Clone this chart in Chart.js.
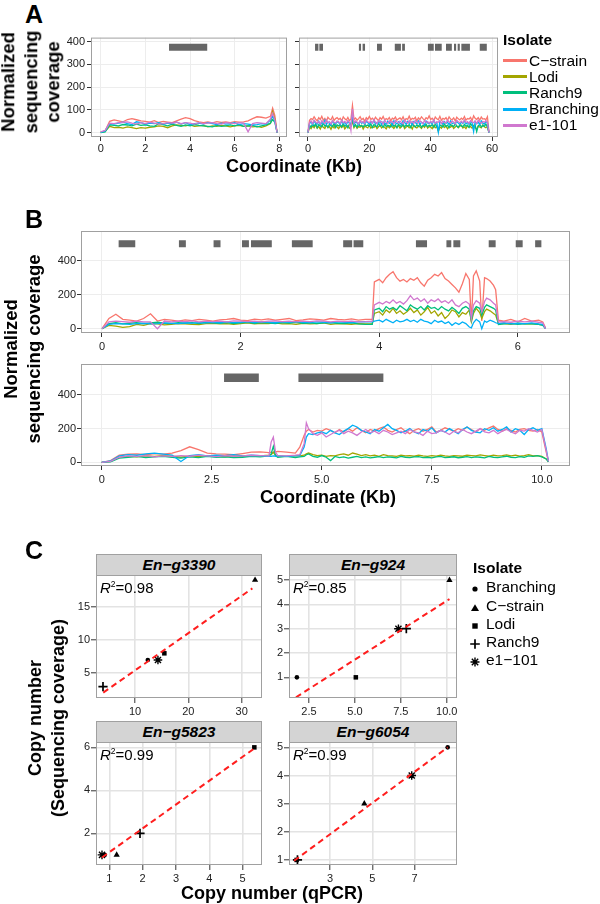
<!DOCTYPE html>
<html>
<head>
<meta charset="utf-8">
<script src="https://cdn.jsdelivr.net/npm/chart.js@4.4.0/dist/chart.umd.min.js"></script>
<style>
  html, body { margin: 0; padding: 0; background: #fff; }
  #page { position: relative; width: 600px; height: 904px; overflow: hidden;
          font-family: 'Liberation Sans', Arial, Helvetica, sans-serif; color: #000; }
  #page canvas { position: absolute; }
  .txt { position: absolute; white-space: nowrap; text-align: center; }
  .strip { position: absolute; box-sizing: border-box; background: #D4D4D4; border: 1px solid #A0A0A0;
           font-weight: bold; font-style: italic; font-size: 15.5px; text-align: center; line-height: 20px; }
  .key { position: absolute; height: 3px; }
</style>
</head>
<body>
<div id="page"></div>
<script>
// ---- isolates ----
const ISOLATES = ['C\u2212strain', 'Lodi', 'Ranch9', 'Branching', 'e1-101'];
const COLORS = ['#F8766D', '#A3A500', '#00BF7D', '#00B0F6', '#D078CF'];

// ---- panel A, left contig (Kb) ----
const A1_X = [0,0.2,0.4,0.6,0.8,1,1.2,1.4,1.6,1.8,2,2.2,2.4,2.6,2.8,3,3.2,3.4,3.6,3.8,
  4,4.2,4.4,4.6,4.8,5,5.2,5.4,5.6,5.8,6,6.2,6.4,6.6,6.8,7,7.2,7.4,7.6,7.7,7.8,7.9];
const A1_CSTRAIN = [3,8,50,56,52,48,58,62,57,52,50,47,53,45,50,47,44,52,60,66,62,53,48,44,47,43,49,45,47,44,49,46,48,52,62,70,68,64,72,108,75,0];
const A1_LODI = [2,6,28,22,24,20,26,22,18,22,20,24,26,30,28,22,30,34,32,30,34,28,30,32,26,30,28,32,30,26,30,32,28,30,26,28,24,30,40,92,60,0];
const A1_RANCH9 = [0,4,35,32,30,36,34,30,38,32,35,30,28,40,36,30,38,32,28,34,30,36,32,30,28,26,32,28,30,34,30,36,28,30,32,26,30,34,42,58,45,0];
const A1_BRANCHING = [2,8,40,38,42,46,40,36,48,44,38,42,40,44,38,42,40,46,38,44,36,40,42,38,44,40,36,42,38,40,44,36,40,38,34,36,40,38,55,75,50,0];
const A1_E1101 = [4,10,42,40,44,46,48,42,38,44,40,46,42,38,40,44,42,46,40,44,42,38,44,40,42,44,40,38,44,42,40,44,42,4,40,44,42,40,60,85,55,0];
const A1_GENES = [[3.06, 4.77]];

// ---- panel A, right contig (Kb) ----
const A2_X = [0,0.5,1,1.5,2,2.5,3,3.5,4,4.5,5,5.5,6,6.5,7,7.5,8,8.5,9,9.5,
  10,10.5,11,11.5,12,12.5,13,13.5,14,14.5,15,15.5,16,16.5,17,17.5,18,18.5,19,19.5,
  20,20.5,21,21.5,22,22.5,23,23.5,24,24.5,25,25.5,26,26.5,27,27.5,28,28.5,29,29.5,
  30,30.5,31,31.5,32,32.5,33,33.5,34,34.5,35,35.5,36,36.5,37,37.5,38,38.5,39,39.5,
  40,40.5,41,41.5,42,42.5,43,43.5,44,44.5,45,45.5,46,46.5,47,47.5,48,48.5,49,49.5,
  50,50.5,51,51.5,52,52.5,53,53.5,54,54.5,55,55.5,56,56.5,57,57.5,58,58.5,59];
const A2_CSTRAIN = [5,55,62,58,70,60,52,66,58,72,55,63,50,68,60,57,71,54,62,66,
  58,64,52,70,61,56,67,53,60,120,58,65,55,62,70,57,63,50,66,59,
  72,58,64,55,68,60,53,66,59,71,56,62,58,67,52,64,60,69,55,61,
  65,57,70,54,62,59,73,56,63,60,68,52,65,58,70,62,55,66,60,74,
  58,64,53,69,61,57,72,55,63,59,66,54,70,60,57,65,52,68,61,56,
  64,58,71,55,62,60,67,53,74,63,58,66,55,69,60,62,57,70,5];
const A2_LODI = [0,25,18,30,22,35,20,28,16,32,24,19,34,22,27,15,30,21,36,25,
  18,29,23,33,17,26,31,20,28,50,22,34,19,27,24,32,16,29,25,21,
  35,20,27,23,31,18,26,33,21,28,24,17,30,22,36,26,19,29,23,32,
  20,27,34,18,25,30,22,28,16,33,24,21,29,26,19,31,23,35,20,27,
  25,18,32,22,28,5,26,20,34,23,29,17,27,24,31,19,25,30,22,28,
  33,21,26,18,30,24,27,20,32,23,15,29,25,21,34,26,22,28,0];
const A2_RANCH9 = [0,32,25,38,28,40,22,35,30,26,42,29,33,24,37,31,27,39,23,34,
  30,36,26,41,28,33,22,38,31,60,27,35,24,40,29,32,25,37,30,34,
  28,39,23,36,31,26,42,29,34,24,38,27,33,30,25,40,28,35,22,37,
  31,27,39,25,34,29,36,23,41,30,26,35,28,38,24,32,30,37,26,33,
  29,36,24,39,27,10,34,30,25,38,28,33,22,36,31,27,40,29,24,35,
  30,26,37,28,33,23,39,31,27,34,5,30,36,25,32,28,38,26,0];
const A2_BRANCHING = [0,40,48,35,52,42,38,50,33,45,40,55,36,47,41,34,51,43,38,49,
  44,36,53,40,46,35,50,42,39,80,37,48,43,35,52,41,46,38,50,44,
  36,49,42,54,38,45,40,51,35,47,43,37,50,41,46,34,52,44,39,48,
  42,36,53,45,38,50,41,47,35,49,44,39,52,37,46,42,34,51,43,40,
  48,38,54,41,45,2,50,43,37,49,41,46,35,52,40,44,38,50,42,36,
  47,41,53,39,45,37,51,43,5,48,40,46,36,52,42,38,49,44,0];
const A2_E1101 = [0,45,52,40,55,47,42,50,38,53,46,41,56,44,49,39,54,45,43,51,
  48,40,55,44,50,42,53,46,10,105,43,52,47,39,54,45,50,41,56,48,
  44,51,42,57,46,40,53,47,49,38,55,45,42,52,46,50,40,54,47,43,
  51,45,39,56,48,42,53,44,50,41,55,46,43,52,47,40,54,45,49,42,
  50,44,57,41,48,46,53,40,51,45,43,55,47,42,52,46,39,54,48,44,
  51,43,56,45,49,41,53,47,44,52,40,55,46,42,50,45,53,44,0];
const A2_GENES = [[2.3,3.4],[3.7,4.9],[16.6,17.3],[17.8,18.6],[22.5,24.1],[28.3,30.3],[30.7,31.6],
  [39.1,41.0],[41.4,43.6],[45.0,46.9],[47.6,48.3],[48.8,49.5],[50.0,52.8],[56.0,58.3]];

// ---- panel B, upper contig (Kb) ----
const B1_X = [0,0.1,0.2,0.3,0.4,0.5,0.6,0.7,0.8,0.9,1,1.1,1.2,1.3,1.4,1.5,1.6,1.7,1.8,1.9,
  2,2.1,2.2,2.3,2.4,2.5,2.6,2.7,2.8,2.9,3,3.1,3.2,3.3,3.4,3.5,3.6,3.7,3.8,
  3.9,3.93,4,4.05,4.1,4.15,4.2,4.25,4.3,4.35,4.4,4.45,4.5,4.55,4.6,4.65,4.7,4.75,4.8,4.85,
  4.9,4.95,5,5.05,5.1,5.15,5.2,5.25,5.3,5.33,5.36,5.4,5.45,5.48,5.52,5.55,5.6,5.65,5.68,5.72,
  5.8,5.9,6,6.1,6.2,6.3,6.36,6.4];
const B1_CSTRAIN = [0,60,85,55,50,45,60,88,45,55,50,45,52,48,55,50,45,52,55,60,
  50,48,56,52,58,50,55,60,48,52,58,55,50,60,55,52,58,50,55,
  55,275,290,270,300,320,335,300,280,290,275,295,285,300,270,250,285,300,320,310,
  330,295,280,260,240,215,265,325,290,40,310,340,280,45,300,295,280,255,230,50,
  45,55,40,60,45,50,40,5];
const B1_LODI = [0,20,15,8,12,25,20,30,28,22,25,30,28,26,24,30,32,28,30,26,
  30,34,28,32,30,35,28,30,26,32,28,30,34,26,30,28,25,30,28,
  28,90,100,80,110,95,120,90,105,85,100,120,95,110,80,100,125,90,105,75,
  95,60,80,110,100,70,95,85,110,40,90,120,95,60,100,115,105,90,80,30,
  30,25,32,28,30,26,22,0];
const B1_RANCH9 = [0,30,35,28,32,36,30,34,38,32,30,35,33,36,30,38,34,32,36,30,
  35,38,32,36,34,30,36,33,38,32,35,30,34,36,32,30,34,28,25,
  25,110,120,100,130,115,125,110,135,120,105,140,125,115,130,110,135,120,125,110,
  130,115,105,125,110,90,120,130,115,50,105,130,120,80,125,140,130,120,110,25,
  28,32,25,30,28,26,20,0];
const B1_BRANCHING = [0,25,30,28,26,30,32,28,30,34,32,30,35,33,36,34,38,35,40,36,
  38,42,36,40,38,35,40,37,42,38,36,40,38,35,40,38,36,40,42,
  40,45,50,40,55,45,35,50,40,45,55,42,50,38,55,45,40,30,50,38,
  45,30,40,20,35,25,40,30,10,5,35,55,40,0,45,38,50,42,35,30,
  35,28,32,30,34,28,25,0];
const B1_E1101 = [0,40,45,42,38,44,40,40,0,45,40,44,42,46,40,44,42,45,40,46,
  44,42,45,40,44,46,42,45,40,44,42,46,44,40,45,42,44,40,42,
  45,140,155,145,160,150,170,150,160,145,165,195,170,180,160,175,150,170,160,175,
  155,165,150,170,140,130,150,160,145,60,140,165,150,100,160,180,170,150,140,40,
  42,38,45,40,44,38,35,0];
const B1_GENES = [[0.24,0.48],[1.11,1.21],[1.61,1.71],[2.02,2.12],[2.15,2.45],[2.74,3.04],[3.48,3.61],
  [3.63,3.77],[4.53,4.69],[4.97,5.04],[5.07,5.17],[5.58,5.68],[5.97,6.07],[6.25,6.34]];

// ---- panel B, lower contig (Kb) ----
const B2_X = [0,0.2,0.4,0.6,0.8,1,1.2,1.4,1.6,1.8,2,2.2,2.4,2.6,2.8,3,3.2,3.4,3.6,3.8,
  3.85,3.9,3.95,4,4.2,4.4,4.5,4.6,4.65,4.7,4.8,4.9,
  5,5.1,5.2,5.3,5.4,5.5,5.6,5.7,5.8,5.9,6,6.1,6.2,6.3,6.4,6.5,6.6,6.7,6.8,6.9,
  7,7.1,7.2,7.3,7.4,7.5,7.6,7.7,7.8,7.9,8,8.1,8.2,8.3,8.4,8.5,8.6,8.7,8.8,8.9,
  9,9.1,9.2,9.3,9.4,9.5,9.6,9.7,9.8,9.9,10,10.1,10.15];
const B2_CSTRAIN = [0,10,42,48,50,45,52,48,55,70,92,75,55,50,48,45,52,60,62,58,
  60,58,62,65,60,55,90,160,185,195,180,190,
  185,200,190,175,195,180,200,185,205,190,175,195,185,200,210,190,180,195,205,185,
  170,190,200,185,195,210,180,190,205,195,185,200,190,210,195,180,200,190,205,215,
  195,185,200,190,180,195,200,190,185,195,180,60,5];
const B2_LODI = [0,5,30,35,32,38,35,40,36,30,38,34,40,36,32,38,35,40,38,42,
  45,60,40,38,35,40,38,42,50,55,45,40,
  42,35,40,38,45,50,42,55,48,40,45,38,42,35,45,40,38,35,42,38,
  40,36,42,38,35,40,37,42,38,35,40,38,36,42,40,38,44,40,36,42,
  38,40,44,38,42,36,40,45,38,40,35,20,3];
const B2_RANCH9 = [0,3,25,30,35,28,32,35,30,25,32,28,35,30,32,28,30,35,32,38,
  50,95,40,30,35,28,32,35,45,50,35,30,
  40,30,10,35,28,32,25,30,35,28,32,26,30,34,28,32,30,26,35,30,
  28,32,34,28,30,26,32,35,28,30,33,27,30,34,28,32,30,26,35,30,
  28,32,36,30,28,34,30,38,35,40,32,20,3];
const B2_BRANCHING = [0,8,38,45,42,50,55,48,42,5,40,45,38,42,40,45,38,42,40,36,
  35,38,36,40,35,38,40,90,150,170,165,175,
  180,170,190,175,165,185,200,220,210,190,180,170,195,185,205,225,200,190,175,185,
  200,180,170,195,185,205,175,190,180,200,185,170,195,210,190,180,175,200,190,205,
  185,195,210,180,200,190,165,195,205,190,200,80,5];
const B2_E1101 = [0,5,30,38,35,40,32,38,35,40,36,42,38,34,40,36,38,42,40,38,
  120,150,60,40,38,42,45,110,235,200,170,160,
  175,150,165,180,190,170,185,175,160,180,195,175,185,170,190,180,165,175,185,170,
  195,180,175,160,185,170,175,190,180,165,185,175,195,180,170,185,200,180,175,190,
  170,185,195,180,170,190,185,200,190,180,195,70,5];
const B2_GENES = [[2.78,3.57],[4.47,6.40]];

// ---- panel C: copy number, qPCR vs sequencing coverage ----
const C_ISOLATES = ['Branching', 'C\u2212strain', 'Lodi', 'Ranch9', 'e1\u2212101'];
const C_GENES = ['En\u2212g3390', 'En\u2212g924', 'En\u2212g5823', 'En\u2212g6054'];
const C_R2 = ['0.98', '0.85', '0.99', '0.99'];
const G3390_QPCR = [12.4, 32.5, 15.5, 4.0, 14.3];
const G3390_SEQ = [7, 19, 8, 3, 7];
const G3390_FIT = [[4.05, 2.1], [32.0, 17.75]];
const G924_QPCR = [1.84, 10.15, 5.05, 7.8, 7.37];
const G924_SEQ = [1, 5, 1, 3, 3];
const G924_FIT = [[1.79, 0.18], [10.15, 4.22]];
const G5823_QPCR = [0.86, 1.22, 5.35, 1.92, 0.78];
const G5823_SEQ = [1, 1, 6, 2, 1];
const G5823_FIT = [[0.78, 0.88], [5.35, 5.95]];
const G6054_QPCR = [8.56, 4.62, 1.42, 1.46, 6.86];
const G6054_SEQ = [5, 3, 1, 1, 4];
const G6054_FIT = [[1.3, 0.97], [8.56, 5.0]];

// ---------------------------------------------------------------
Chart.defaults.font.family = "'Liberation Sans', Arial, Helvetica, sans-serif";
Chart.defaults.font.size = 11;
Chart.defaults.color = '#222';

const page = document.getElementById('page');

// stroke the whole panel border like ggplot's theme_bw
const boxPlugin = {
  id: 'box',
  afterDraw(chart) {
    const a = chart.chartArea, ctx = chart.ctx;
    ctx.save();
    ctx.strokeStyle = '#A0A0A0';
    ctx.lineWidth = 1;
    ctx.strokeRect(a.left + 0.5, a.top + 0.5, a.right - a.left - 1, a.bottom - a.top - 1);
    ctx.restore();
  }
};

const PAD = { l: 45, t: 8, r: 14, b: 26 };

// canvas placed so that its chart area lands exactly on rect
function makeChart(rect, config) {
  const c = document.createElement('canvas');
  const W = rect.w + PAD.l + PAD.r, H = rect.h + PAD.t + PAD.b;
  c.width = W; c.height = H;
  c.style.width = W + 'px'; c.style.height = H + 'px';
  c.style.left = (rect.l - PAD.l) + 'px';
  c.style.top = (rect.t - PAD.t) + 'px';
  page.appendChild(c);
  const o = config.options;
  o.responsive = false;
  o.animation = false;
  o.devicePixelRatio = 1;
  o.events = [];
  o.layout = { padding: { top: PAD.t, right: PAD.r, left: 0, bottom: 0 } };
  o.plugins = { legend: { display: false }, tooltip: { enabled: false } };
  o.scales.x.afterFit = s => { s.height = PAD.b; };
  o.scales.y.afterFit = s => { s.width = PAD.l; };
  config.plugins = [boxPlugin];
  return new Chart(c, config);
}

function axis(min, max, ticks, fmt, st) {
  return {
    type: 'linear', min, max,
    afterBuildTicks: s => { s.ticks = ticks.map(v => ({ value: v })); },
    ticks: { callback: v => fmt(v), autoSkip: false, maxRotation: 0, padding: st.pad, color: '#222', font: { size: 11 } },
    grid: { color: st.grid, lineWidth: st.gw, tickColor: '#333', tickLength: st.tl, tickWidth: 1 },
    border: { display: false }
  };
}

const int = v => String(v);
const none = () => '';
const dec1 = v => v === 0 ? '0' : v.toFixed(1);

const COV_X = { pad: 1, grid: '#EDEDED', gw: 1, tl: 4 };
const COV_Y = { pad: 2, grid: '#EDEDED', gw: 1, tl: 4 };

function coverageSets(xs, list) {
  return list.map((ys, i) => ({
    label: ISOLATES[i],
    data: xs.map((x, j) => ({ x, y: ys[j] })),
    borderColor: COLORS[i], borderWidth: 1.3,
    pointRadius: 0, tension: 0, fill: false,
    order: 5 - i
  }));
}

function geneSet(segs, y, width) {
  return {
    label: 'genes',
    data: segs.flatMap(([a, b]) => [{ x: a, y }, { x: b, y }, { x: b, y: null }]),
    borderColor: '#666666', borderWidth: width, borderCapStyle: 'butt',
    pointRadius: 0, spanGaps: false, order: 6
  };
}

// ---- panel A ----
makeChart({ l: 91, t: 37, w: 196, h: 100 }, {
  type: 'line',
  data: { datasets: [...coverageSets(A1_X, [A1_CSTRAIN, A1_LODI, A1_RANCH9, A1_BRANCHING, A1_E1101]), geneSet(A1_GENES, 375, 7)] },
  options: { scales: {
    x: axis(-0.434, 8.343, [0, 2, 4, 6, 8], int, COV_X),
    y: axis(-18.8, 417.9, [0, 100, 200, 300, 400], int, COV_Y)
  } }
});
makeChart({ l: 299, t: 37, w: 199, h: 100 }, {
  type: 'line',
  data: { datasets: [...coverageSets(A2_X, [A2_CSTRAIN, A2_LODI, A2_RANCH9, A2_BRANCHING, A2_E1101]), geneSet(A2_GENES, 375, 7)] },
  options: { scales: {
    x: axis(-2.93, 61.95, [0, 20, 40, 60], int, COV_X),
    y: axis(-18.8, 417.9, [0, 100, 200, 300, 400], none, COV_Y)
  } }
});

// ---- panel B ----
const B_X = { pad: 3, grid: '#EDEDED', gw: 1, tl: 4 };
const B_Y = { pad: 1, grid: '#EDEDED', gw: 1, tl: 4 };
makeChart({ l: 81, t: 231, w: 489, h: 102 }, {
  type: 'line',
  data: { datasets: [...coverageSets(B1_X, [B1_CSTRAIN, B1_LODI, B1_RANCH9, B1_BRANCHING, B1_E1101]), geneSet(B1_GENES, 500, 7)] },
  options: { scales: {
    x: axis(-0.303, 6.753, [0, 2, 4, 6], int, B_X),
    y: axis(-25.3, 574.7, [0, 200, 400], int, B_Y)
  } }
});
makeChart({ l: 81, t: 364, w: 489, h: 102 }, {
  type: 'line',
  data: { datasets: [...coverageSets(B2_X, [B2_CSTRAIN, B2_LODI, B2_RANCH9, B2_BRANCHING, B2_E1101]), geneSet(B2_GENES, 503, 8.5)] },
  options: { scales: {
    x: axis(-0.47, 10.64, [0, 2.5, 5, 7.5, 10], dec1, B_X),
    y: axis(-22, 584, [0, 200, 400], int, B_Y)
  } }
});

// ---- panel C ----
const C_SHAPES = ['circle', 'triangle', 'rect', 'cross', 'star'];
const C_RADIUS = [2.3, 3.6, 3.2, 4.6, 4.3];
const C_BW = [0, 0, 0, 1.7, 1.4];
const C_X = { pad: 2, grid: '#E3E3E3', gw: 1.6, tl: 5 };
const C_Y = { pad: 1, grid: '#E3E3E3', gw: 1.6, tl: 5 };

function scatterPanel(rect, qpcr, seq, fit, xr, yr, xt, yt, xfmt) {
  const pts = C_ISOLATES.map((name, i) => ({
    type: 'scatter', label: name,
    data: [{ x: qpcr[i], y: seq[i] }],
    pointStyle: C_SHAPES[i], pointRadius: C_RADIUS[i], borderWidth: C_BW[i],
    backgroundColor: '#000', borderColor: '#000', order: 2
  }));
  pts.push({
    type: 'line', label: 'fit',
    data: fit.map(([x, y]) => ({ x, y })),
    borderColor: '#FF1E1E', borderWidth: 2, borderDash: [6, 4],
    pointRadius: 0, fill: false, order: 0
  });
  makeChart(rect, {
    type: 'scatter',
    data: { datasets: pts },
    options: { scales: {
      x: axis(xr[0], xr[1], xt, xfmt, C_X),
      y: axis(yr[0], yr[1], yt, int, C_Y)
    } }
  });
}

const C_RECTS = [
  { l: 96, t: 575, w: 166, h: 123 }, { l: 289, t: 575, w: 168, h: 123 },
  { l: 96, t: 742, w: 166, h: 123 }, { l: 289, t: 742, w: 168, h: 123 }
];
scatterPanel(C_RECTS[0], G3390_QPCR, G3390_SEQ, G3390_FIT, [2.69, 33.8], [1.29, 19.76], [10, 20, 30], [5, 10, 15], int);
scatterPanel(C_RECTS[1], G924_QPCR, G924_SEQ, G924_FIT, [1.41, 10.56], [0.15, 5.21], [2.5, 5, 7.5, 10], [1, 2, 3, 4, 5], v => v.toFixed(1));
scatterPanel(C_RECTS[2], G5823_QPCR, G5823_SEQ, G5823_FIT, [0.6, 5.58], [0.53, 6.25], [1, 2, 3, 4, 5], [2, 4, 6], int);
scatterPanel(C_RECTS[3], G6054_QPCR, G6054_SEQ, G6054_FIT, [1.06, 9.0], [0.82, 5.19], [3, 5, 7], [1, 2, 3, 4, 5], int);

// ---- text ----
function label(html, x, y, o) {
  o = o || {};
  const d = document.createElement('div');
  d.className = 'txt';
  d.innerHTML = html;
  d.style.left = x + 'px';
  d.style.top = y + 'px';
  d.style.fontSize = (o.size || 15) + 'px';
  if (o.bold) d.style.fontWeight = 'bold';
  if (o.italic) d.style.fontStyle = 'italic';
  if (o.lh) d.style.lineHeight = o.lh + 'px';
  let tf = o.left ? 'translate(0,-50%)' : 'translate(-50%,-50%)';
  if (o.rot) tf += ' rotate(-90deg)';
  d.style.transform = tf;
  page.appendChild(d);
  return d;
}

label('A', 34, 14, { size: 25, bold: true });
label('B', 34, 219, { size: 25, bold: true });
label('C', 34, 550, { size: 25, bold: true });

label('Normalized<br>sequencing<br>coverage', 31, 82, { size: 18.5, bold: true, rot: true, lh: 22.5 });
label('Coordinate (Kb)', 294, 166, { size: 18, bold: true });
label('Normalized<br>sequencing coverage', 21.5, 349, { size: 18.5, bold: true, rot: true, lh: 23 });
label('Coordinate (Kb)', 328, 497, { size: 18, bold: true });
label('Copy number<br>(Sequencing coverage)', 46.5, 718, { size: 18, bold: true, rot: true, lh: 23 });
label('Copy number (qPCR)', 272, 893, { size: 18, bold: true });

// legend A
label('Isolate', 503, 40, { size: 15.5, bold: true, left: true });
ISOLATES.forEach((name, i) => {
  const y = 60.7 + i * 16.1;
  const k = document.createElement('div');
  k.className = 'key';
  k.style.left = '503px'; k.style.width = '24px';
  k.style.top = (y - 1.5) + 'px';
  k.style.background = COLORS[i];
  page.appendChild(k);
  label(name, 529, y, { size: 15.5, left: true });
});

// strips and R^2
C_RECTS.forEach((r, i) => {
  const s = document.createElement('div');
  s.className = 'strip';
  s.style.left = r.l + 'px'; s.style.top = (r.t - 21) + 'px';
  s.style.width = r.w + 'px'; s.style.height = '22px';
  s.textContent = C_GENES[i];
  page.appendChild(s);
  label('<i>R</i><span style="font-size:8.5px;position:relative;top:-6px">2</span>=' + C_R2[i],
    r.l + 4, r.t + 12, { size: 15, left: true });
});

// legend C
const SYMBOLS = [
  '<circle cx="6" cy="6" r="2.6"/>',
  '<polygon points="6,2.2 10,9 2,9"/>',
  '<rect x="3.3" y="3.3" width="5.4" height="5.4"/>',
  '<path d="M6 1.2V10.8M1.2 6H10.8" stroke="#000" stroke-width="1.7"/>',
  '<path d="M6 1.5V10.5M1.5 6H10.5M2.8 2.8L9.2 9.2M9.2 2.8L2.8 9.2" stroke="#000" stroke-width="1.4"/>'
];
label('Isolate', 473, 568, { size: 15.5, bold: true, left: true });
C_ISOLATES.forEach((name, i) => {
  const y = 587.3 + i * 18.2;
  const sv = document.createElement('div');
  sv.style.position = 'absolute';
  sv.style.left = '469px'; sv.style.top = (y - 6) + 'px';
  sv.innerHTML = '<svg width="12" height="12" viewBox="0 0 12 12" fill="#000">' + SYMBOLS[i] + '</svg>';
  page.appendChild(sv);
  label(name, 486, y, { size: 15.5, left: true });
});
</script>
</body>
</html>
